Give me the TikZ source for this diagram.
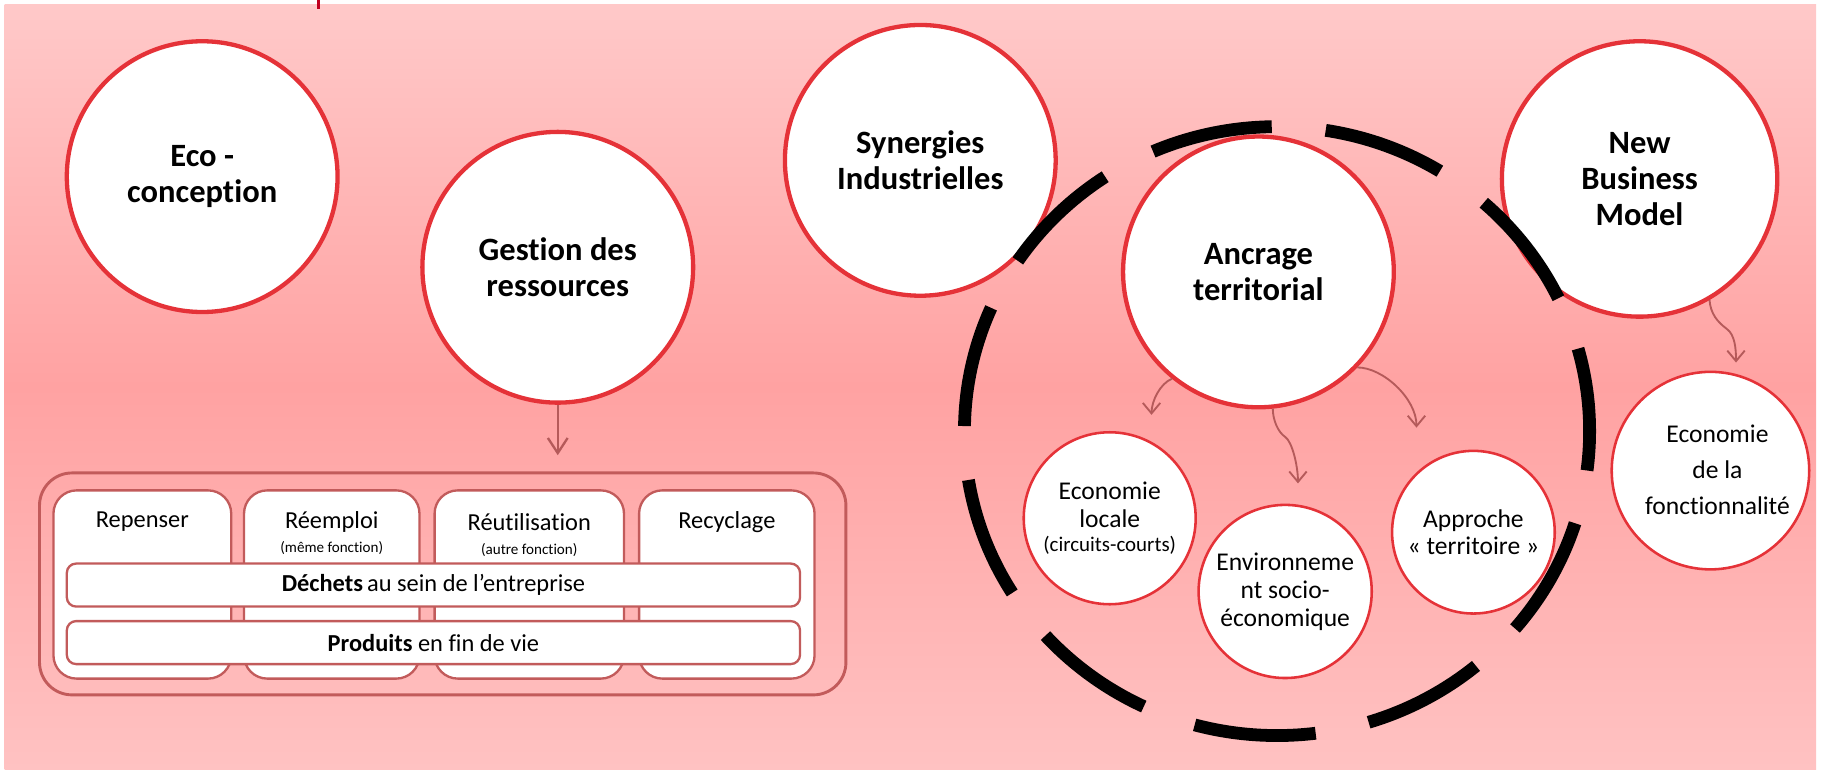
\documentclass[tikz,border=0pt]{standalone}
\usepackage{fontspec}
\setmainfont{Carlito}[Ligatures=CommonOff]
\usetikzlibrary{arrows.meta}
\definecolor{bgtop}{HTML}{FFC9C9}
\definecolor{bgmid}{HTML}{FFA2A2}
\definecolor{bgbot}{HTML}{FFC2C2}
\definecolor{cred}{HTML}{E53238}
\definecolor{boxc}{HTML}{C25B5B}
\definecolor{arrc}{HTML}{B55A5A}
\definecolor{markc}{HTML}{C00020}
\begin{document}
\begin{tikzpicture}[x=1pt,y=-1pt,
  bigc/.style={circle, draw=cred, fill=white, line width=3.7pt, minimum size=233pt, inner sep=0pt, align=center, font=\fontsize{28}{31}\selectfont\bfseries},
  smallc/.style={circle, draw=cred, fill=white, line width=2.2pt, inner sep=0pt, align=center, font=\fontsize{22}{24}\selectfont},
  colbox/.style={draw=boxc, fill=white, line width=2pt, rounded corners=20pt, minimum height=162pt, inner sep=0pt},
  barbox/.style={draw=boxc, fill=white, line width=2pt, rounded corners=8pt, minimum width=631pt, minimum height=37pt, inner sep=0pt, font=\fontsize{21}{24}\selectfont},
  arr/.style={draw=arrc, line width=1.6pt, -{Straight Barb[length=9pt,width=15pt]}},
  boxtxt/.style={font=\fontsize{21}{24}\selectfont, inner sep=0pt},
  smalltxt/.style={font=\fontsize{13}{14}\selectfont, inner sep=0pt}
]
\useasboundingbox (0,0) rectangle (1568,661.8);
\fill[white] (0,0) rectangle (1568,661.8);
\shade[top color=bgtop, bottom color=bgbot, middle color=bgmid] (4,4) rectangle (1563,661.8);
\draw[draw=markc, line width=2pt] (274,0) -- (274,8);

% main circles
\node[bigc] (eco) at (174,152) {Eco -\\conception};
\node[bigc] (gest) at (480,230) {Gestion des\\ressources};
\node[bigc] (syn) at (792,138) {Synergies\\Industrielles};
\node[bigc] (anc) at (1083,234) {Ancrage\\territorial};
\node[bigc, minimum size=237pt] (nbm) at (1411,154) {New\\Business\\Model};

% small circles
\node[smallc, minimum size=148pt] (eloc) at (955,446) {Economie\\locale\\[-3pt]{\fontsize{18}{20}\selectfont (circuits-courts)}};
\node[smallc, minimum size=149pt] (env) at (1106,509) {Environneme\\nt socio-\\économique};
\node[smallc, minimum size=140pt] (appr) at (1268,458) {Approche\\« territoire »};
\node[smallc, minimum size=170pt] (fonct) at (1472,405) {};
\node[align=center, inner sep=0pt, font=\fontsize{22}{31}\selectfont] (fonctt) at (1478,404) {Economie\\de la\\fonctionnalité};

% resources box
\node[draw=boxc, line width=2.5pt, rounded corners=28pt, minimum width=694pt, minimum height=191pt, inner sep=0pt] (outer) at (381,502.5) {};
\node[colbox, minimum width=153pt] (c1) at (122.5,503) {};
\node[colbox, minimum width=151pt] (c2) at (285.5,503) {};
\node[colbox, minimum width=163pt] (c3) at (455.5,503) {};
\node[colbox, minimum width=151pt] (c4) at (625.5,503) {};
\node[boxtxt] (t1) at (122.5,449) {Repenser};
\node[boxtxt] (t2) at (285.5,449) {Réemploi};
\node[smalltxt] (t2b) at (285.5,472) {(même fonction)};
\node[boxtxt] (t3) at (455.5,449) {Réutilisation};
\node[smalltxt] (t3b) at (455.5,473) {(autre fonction)};
\node[boxtxt] (t4) at (625.5,449) {Recyclage};
\node[barbox] (dech) at (373,503.5) {\textbf{Déchets}\,au sein de l’entreprise};
\node[barbox] (prod) at (373,553) {\textbf{Produits} en fin de vie};

% arrows
\coordinate (tipa) at (991,357);
\coordinate (tipb) at (1117,416);
\coordinate (tipc) at (1219,368);
\coordinate (tipd) at (1494,312);
\draw[draw=arrc, line width=2pt, -{Straight Barb[length=13pt,width=17pt]}, shorten >=14pt] (gest.south) -- (gest.south |- outer.north);
\draw[arr] (anc.-129) .. controls +(-10,4) and +(0,-12) .. (tipa);
\draw[arr] (anc.-84) .. controls +(0,10) and +(-6,-4) .. (1106,376) .. controls +(6,4) and +(0,-15) .. (tipb);
\draw[arr] (anc.-44) .. controls +(22,0) and +(0,-25) .. (tipc);
\draw[arr] (nbm.-60) .. controls +(1,12) and +(-8,-6) .. (1486,283) .. controls +(7,5) and +(0,-12) .. (tipd);

% dashed circle
\draw[black, line width=11pt, dash pattern=on 105pt off 46.6pt, dash phase=71pt] (1099,371) ellipse [x radius=269, y radius=262];
\end{tikzpicture}
\end{document}
